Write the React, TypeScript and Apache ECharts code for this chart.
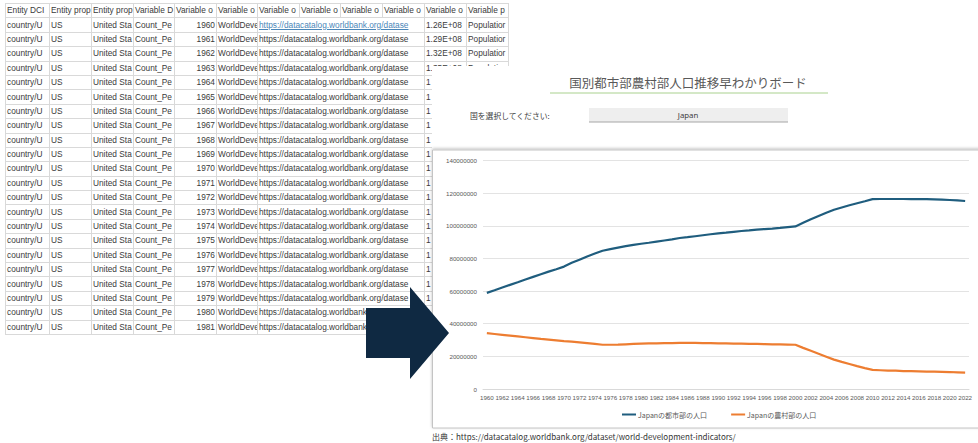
import React, { useEffect, useRef } from "react";
import * as echarts from "echarts";

// ---------- chart data ----------
const years = [
  "1960","1961","1962","1963","1964","1965","1966","1967","1968","1969",
  "1970","1971","1972","1973","1974","1975","1976","1977","1978","1979",
  "1980","1981","1982","1983","1984","1985","1986","1987","1988","1989",
  "1990","1991","1992","1993","1994","1995","1996","1997","1998","1999",
  "2000","2001","2002","2003","2004","2005","2006","2007","2008","2009",
  "2010","2011","2012","2013","2014","2015","2016","2017","2018","2019",
  "2020","2021","2022",
];

// Japan urban population (persons)
const urbanPop = [
  58900000, 60500000, 62200000, 63800000, 65400000, 67100000, 68700000, 70300000, 71900000, 73400000,
  75000000, 77300000, 79200000, 81200000, 83000000, 84700000, 85700000, 86600000, 87500000, 88300000,
  89000000, 89600000, 90300000, 91000000, 91700000, 92500000, 93000000, 93600000, 94200000, 94800000,
  95400000, 95800000, 96300000, 96800000, 97200000, 97700000, 98000000, 98300000, 98700000, 99200000,
  99600000, 101800000, 104000000, 106000000, 108000000, 109800000, 111200000, 112600000, 113800000, 115000000,
  116300000, 116400000, 116400000, 116400000, 116400000, 116300000, 116300000, 116300000, 116200000, 116000000,
  115800000, 115600000, 115200000,
];

// Japan rural population (persons)
const ruralPop = [
  34200000, 33700000, 33200000, 32700000, 32200000, 31700000, 31200000, 30700000, 30300000, 29800000,
  29300000, 29000000, 28600000, 28100000, 27600000, 27100000, 27100000, 27200000, 27400000, 27600000,
  27800000, 27900000, 28000000, 28100000, 28100000, 28200000, 28200000, 28200000, 28100000, 28100000,
  28000000, 27900000, 27800000, 27800000, 27700000, 27600000, 27500000, 27400000, 27300000, 27200000,
  27100000, 25200000, 23400000, 21600000, 19800000, 18000000, 16600000, 15300000, 14000000, 12800000,
  11700000, 11500000, 11300000, 11200000, 11000000, 10900000, 10800000, 10700000, 10600000, 10500000,
  10400000, 10200000, 10000000,
];

const seriesNames = ["Japanの都市部の人口", "Japanの農村部の人口"];
const titleText = "国別都市部農村部人口推移早わかりボード";
const selectLabel = "国を選択してください:";
const selectedCountry = "Japan";
const sourceText = "出典：https://datacatalog.worldbank.org/dataset/world-development-indicators/";

// ---------- background spreadsheet data (visible, clipped cell texts) ----------
const sheetHeaders = [
  "Entity DCI", "Entity prop", "Entity prop", "Variable D", "Variable o", "Variable o",
  "Variable o", "Variable o", "Variable o", "Variable o", "Variable o", "Variable p",
];
const sheetYears = [
  1960, 1961, 1962, 1963, 1964, 1965, 1966, 1967, 1968, 1969, 1970,
  1971, 1972, 1973, 1974, 1975, 1976, 1977, 1978, 1979, 1980, 1981,
];
const sheetValues = [
  "1.26E+08", "1.29E+08", "1.32E+08", "1.35E+08", "1", "1", "1", "1",
  "1", "1", "1", "1", "1", "1", "1", "1",
  "1", "1", "1", "1", "1", "1",
];
const sheetLastCol = ["Populatior", "Populatior", "Populatior", "Populatior"];
const sheetEntity = "country/U";
const sheetCode = "US";
const sheetCountry = "United Sta";
const sheetVariable = "Count_Pe";
const sheetSource = "WorldDeve";
const sheetUrl = "https://datacatalog.worldbank.org/datase";
const sheetColWidths = [44, 42, 42, 41, 42, 41, 42, 41, 42, 42, 42, 42];

const BLUE = "#1f5d7e";
const ORANGE = "#ed7d31";

export default function App() {
  const ref = useRef<HTMLDivElement>(null);

  useEffect(() => {
    const chart = echarts.init(ref.current!, null, { renderer: "svg" });
    const option: any = {
      animation: false,
      backgroundColor: "transparent",
      textStyle: { fontFamily: "'Liberation Sans', 'Noto Sans CJK JP', sans-serif" },
      grid: { left: 483, right: 9, top: 160.5, bottom: 54, containLabel: false },
      xAxis: {
        type: "category",
        data: years,
        boundaryGap: true,
        axisTick: { show: false },
        axisLine: { show: true, lineStyle: { color: "#d9d9d9", width: 1 } },
        axisLabel: {
          interval: 1,
          fontSize: 6.2,
          color: "#595959",
          margin: 5,
          fontFamily: "'Liberation Sans', sans-serif",
        },
        splitLine: { show: false },
      },
      yAxis: {
        type: "value",
        min: 0,
        max: 140000000,
        interval: 20000000,
        axisLine: { show: false },
        axisTick: { show: false },
        axisLabel: {
          fontSize: 6.2,
          color: "#595959",
          margin: 6,
          fontFamily: "'Liberation Sans', sans-serif",
          formatter: (v: number) => String(v),
        },
        splitLine: { show: true, lineStyle: { color: "#e3e3e3", width: 1 } },
      },
      legend: {
        left: 617,
        top: 406,
        itemWidth: 14,
        itemHeight: 2,
        itemGap: 24,
        icon: "rect",
        textStyle: {
          fontSize: 7,
          color: "#595959",
          fontFamily: "'Noto Sans CJK JP', sans-serif",
          padding: [0, 0, 0, -3],
        },
        data: seriesNames,
      },
      series: [
        {
          name: seriesNames[0],
          type: "line",
          data: urbanPop,
          showSymbol: false,
          smooth: false,
          lineStyle: { color: BLUE, width: 2.2 },
          itemStyle: { color: BLUE },
          z: 3,
        },
        {
          name: seriesNames[1],
          type: "line",
          data: ruralPop,
          showSymbol: false,
          smooth: false,
          lineStyle: { color: ORANGE, width: 2.2 },
          itemStyle: { color: ORANGE },
          z: 3,
        },
      ],
      graphic: [
        // white dashboard panel covering the spreadsheet
        {
          type: "rect",
          z: -20,
          shape: { x: 432, y: 66, width: 560, height: 390 },
          style: { fill: "#ffffff" },
        },
        // chart box
        {
          type: "rect",
          z: -15,
          shape: { x: 432.5, y: 150, width: 560, height: 278 },
          style: {
            fill: "#ffffff",
            stroke: "#c4c4c4",
            lineWidth: 1,
            shadowBlur: 3,
            shadowColor: "rgba(0,0,0,0.25)",
            shadowOffsetY: -1,
          },
        },
        // title
        {
          type: "text",
          z: 10,
          x: 688,
          y: 82,
          style: {
            text: titleText,
            fill: "#595959",
            fontSize: 12.5,
            fontFamily: "'Noto Sans CJK JP', sans-serif",
            align: "center",
            verticalAlign: "middle",
          },
        },
        {
          type: "line",
          z: 10,
          shape: { x1: 550, y1: 93, x2: 828, y2: 93 },
          style: { stroke: "#a9d18e", lineWidth: 1 },
        },
        // selector
        {
          type: "text",
          z: 10,
          x: 470,
          y: 115,
          style: {
            text: selectLabel,
            fill: "#404040",
            fontSize: 7.8,
            fontFamily: "'Noto Sans CJK JP', sans-serif",
            align: "left",
            verticalAlign: "middle",
          },
        },
        {
          type: "rect",
          z: 10,
          shape: { x: 589, y: 108, width: 199, height: 14 },
          style: { fill: "#eeeeee" },
        },
        {
          type: "line",
          z: 10,
          shape: { x1: 589, y1: 122, x2: 788, y2: 122 },
          style: { stroke: "#a6a6a6", lineWidth: 1 },
        },
        {
          type: "text",
          z: 11,
          x: 688,
          y: 115,
          style: {
            text: selectedCountry,
            fill: "#404040",
            fontSize: 7.8,
            fontFamily: "'Noto Sans', sans-serif",
            align: "center",
            verticalAlign: "middle",
          },
        },
        // source
        {
          type: "text",
          z: 10,
          x: 432,
          y: 436,
          style: {
            text: sourceText,
            fill: "#333333",
            fontSize: 8,
            fontFamily: "'Noto Sans CJK JP', sans-serif",
            align: "left",
            verticalAlign: "middle",
          },
        },
        // arrow
        {
          type: "polygon",
          z: 100,
          shape: {
            points: [
              [366, 308], [410, 308], [410, 287], [449, 333],
              [410, 379], [410, 358], [366, 358],
            ],
          },
          style: { fill: "#0f2942" },
        },
      ],
    };
    chart.setOption(option);
    return () => chart.dispose();
  }, []);

  const cellBase: React.CSSProperties = {
    border: "1px solid #d9d9d9",
    padding: "0 1px",
    whiteSpace: "nowrap",
    overflow: "hidden",
    textOverflow: "clip",
    lineHeight: "13px",
    height: 13.4,
  };

  return (
    <div
      style={{
        position: "fixed",
        left: 0,
        top: 0,
        width: 978,
        height: 443,
        background: "#ffffff",
        overflow: "hidden",
      }}
    >
      <table
        style={{
          position: "absolute",
          left: 5,
          top: 3,
          borderCollapse: "collapse",
          tableLayout: "fixed",
          width: sheetColWidths.reduce((a, b) => a + b, 0),
          fontFamily: "'Liberation Sans', sans-serif",
          fontSize: 8.3,
          color: "#3a3a3a",
          borderLeft: "1px solid #b8b8b8",
        }}
      >
        <colgroup>
          {sheetColWidths.map((w, i) => (
            <col key={i} style={{ width: w }} />
          ))}
        </colgroup>
        <tbody>
          <tr>
            {sheetHeaders.map((h, i) => (
              <td key={i} style={cellBase}>
                {h}
              </td>
            ))}
          </tr>
          {sheetYears.map((y, r) => (
            <tr key={y}>
              <td style={cellBase}>{sheetEntity}</td>
              <td style={cellBase}>{sheetCode}</td>
              <td style={cellBase}>{sheetCountry}</td>
              <td style={cellBase}>{sheetVariable}</td>
              <td style={{ ...cellBase, textAlign: "right" }}>{y}</td>
              <td style={cellBase}>{sheetSource}</td>
              <td
                colSpan={4}
                style={{
                  ...cellBase,
                  color: r === 0 ? "#4a86b8" : "#3a3a3a",
                  textDecoration: r === 0 ? "underline" : "none",
                }}
              >
                {sheetUrl}
              </td>
              <td style={cellBase}>{sheetValues[r]}</td>
              <td style={cellBase}>{sheetLastCol[r] ?? ""}</td>
            </tr>
          ))}
        </tbody>
      </table>
      <div
        ref={ref}
        style={{ position: "absolute", left: 0, top: 0, width: 978, height: 443 }}
      />
    </div>
  );
}
